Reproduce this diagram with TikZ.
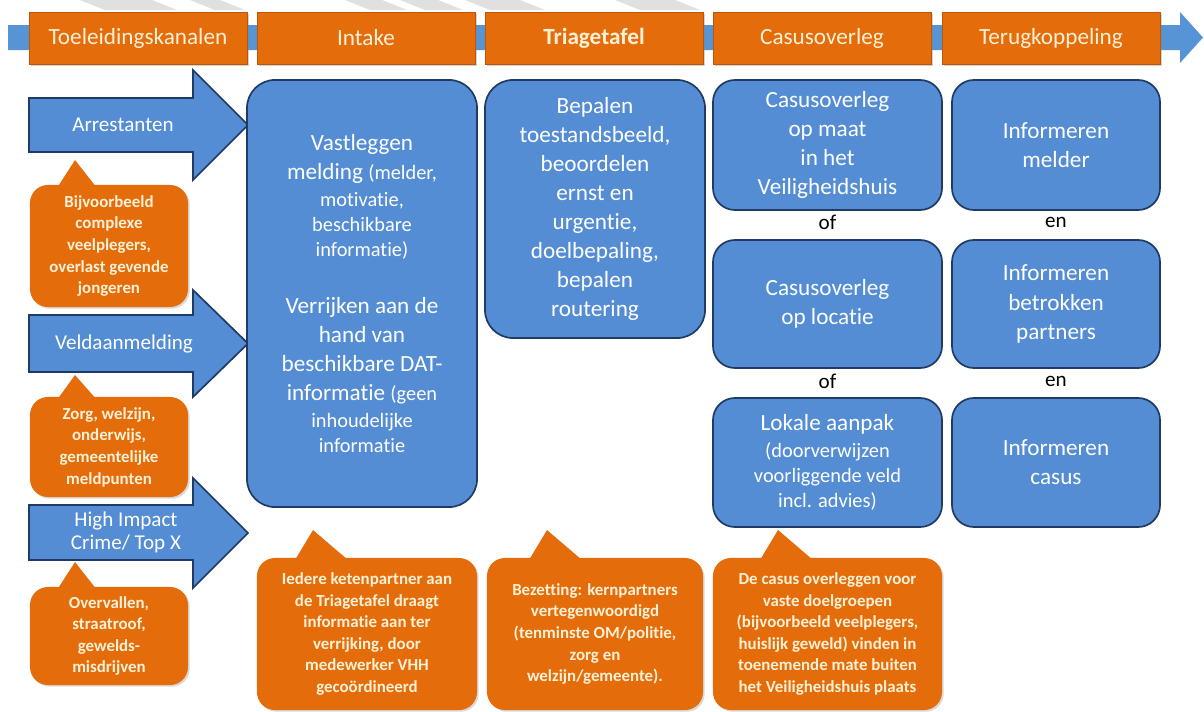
\documentclass[tikz,border=0pt]{standalone}
\usepackage{fontspec}
\setmainfont{Carlito}[Ligatures=NoCommon]
\usetikzlibrary{shadows}
\definecolor{vhhblue}{RGB}{84,141,212}
\definecolor{vhhnavy}{RGB}{31,58,99}
\definecolor{bandblue}{RGB}{86,148,214}
\definecolor{vhhorange}{RGB}{228,108,10}
\definecolor{orangeline}{RGB}{190,86,5}
\definecolor{creamtext}{RGB}{255,241,214}
\definecolor{watergray}{RGB}{224,224,224}
\newcommand{\smalltxt}[1]{{\fontsize{14.5}{17.7}\selectfont #1}}

\begin{document}
\begin{tikzpicture}[x=0.025cm, y=-0.025cm,
		headbox/.style={draw=orangeline, fill=vhhorange, text=creamtext, minimum width=5.45cm, minimum height=1.3cm, font=\fontsize{16.5}{19}\selectfont, drop shadow={shadow xshift=1.2pt, shadow yshift=-1.2pt, opacity=0.35}},
		stepbox/.style={draw=vhhnavy, fill=vhhblue, text=white, line width=1.2pt, rounded corners=0.55cm, align=center, font=\fontsize{16.5}{20.7}\selectfont},
		inarrow/.style={draw=vhhnavy, fill=vhhblue, line width=1.2pt, line join=miter},
		arrowtext/.style={text=white, align=center, font=\fontsize{15}{16.5}\selectfont},
		notebox/.style={fill=vhhorange, text=creamtext, rounded corners=0.45cm, align=center, font=\bfseries\fontsize{12}{15.4}\selectfont, drop shadow={shadow xshift=1.2pt, shadow yshift=-1.2pt, opacity=0.3}},
		linkword/.style={text=black, font=\fontsize{15}{18}\selectfont}
	]

	\useasboundingbox (0,0) rectangle (1204,711);

	\fill[watergray] (80,0) -- (152,0) -- (177,10) -- (105,10) -- cycle;
	\fill[watergray] (190,0) -- (220,0) -- (245,10) -- (215,10) -- cycle;
	\fill[watergray] (345,0) -- (382,0) -- (407,10) -- (370,10) -- cycle;
	\fill[watergray] (400,0) -- (438,0) -- (463,10) -- (425,10) -- cycle;
	\fill[watergray] (465,0) -- (520,0) -- (545,10) -- (490,10) -- cycle;
	\fill[watergray] (615,0) -- (675,0) -- (700,10) -- (640,10) -- cycle;

	\fill[bandblue] (8,25) -- (1180,25) -- (1180,12) -- (1203,37.5) -- (1180,63) -- (1180,50) -- (8,50) -- cycle;

	\node[headbox] (hToel) at (138,38) {Toeleidingskanalen};
	\node[headbox] (hIntake) at (366,38) {Intake};
	\node[headbox] (hTriage) at (594,38) {\textbf{Triagetafel}};
	\node[headbox] (hCasus) at (822,38) {Casusoverleg};
	\node[headbox] (hTerug) at (1051,38) {Terugkoppeling};

	\draw[inarrow] (29,98) -- (193,98) -- (193,70) -- (248,125) -- (193,180) -- (193,152) -- (29,152) -- cycle;
	\draw[inarrow] (29,315) -- (193,315) -- (193,290) -- (248,343.5) -- (193,397) -- (193,372) -- (29,372) -- cycle;
	\draw[inarrow] (29,505) -- (193,505) -- (193,478) -- (248,533) -- (193,588) -- (193,560) -- (29,560) -- cycle;

	\node[arrowtext] (aArrest) at (123,125) {Arrestanten};
	\node[arrowtext] (aVeld) at (124,343.5) {Veldaanmelding};
	\node[arrowtext] (aHigh) at (126,532) {High Impact\\Crime/ Top X};

	\node[notebox, minimum width=3.95cm, minimum height=3.05cm] (nArrest) at (109,246) {Bijvoorbeeld\\complexe\\veelplegers,\\overlast gevende\\jongeren};
	\fill[vhhorange] (57,188) -- (75,160) -- (97,188) -- cycle;

	\node[notebox, minimum width=3.95cm, minimum height=2.5cm] (nVeld) at (109,447) {Zorg, welzijn,\\onderwijs,\\gemeentelijke\\meldpunten};
	\fill[vhhorange] (57,400) -- (75,375) -- (97,400) -- cycle;

	\node[notebox, minimum width=3.95cm, minimum height=2.45cm] (nHigh) at (109,636) {Overvallen,\\straatroof,\\gewelds-\\misdrijven};
	\fill[vhhorange] (57,590) -- (75,562) -- (97,590) -- cycle;

	\node[stepbox, rounded corners=0.7cm, minimum width=5.75cm, minimum height=10.675cm] (bIntake) at (362,293.5) {Vastleggen\\melding \smalltxt{(melder,}\\[-1pt]\smalltxt{motivatie,}\\[-3pt]\smalltxt{beschikbare}\\[-3pt]\smalltxt{informatie)}\\[19.7pt]Verrijken aan de\\hand van\\beschikbare DAT-\\informatie \smalltxt{(geen}\\[-1.5pt]\smalltxt{inhoudelijke}\\[-3pt]\smalltxt{informatie}};

	\node[stepbox, rounded corners=0.7cm, minimum width=5.5cm, minimum height=6.45cm] (bTriage) at (595,209) {Bepalen\\toestandsbeeld,\\beoordelen\\ernst en\\urgentie,\\doelbepaling,\\bepalen\\routering};

	\node[stepbox, minimum width=5.725cm, minimum height=3.25cm] (bCasA) at (827.5,145) {Casusoverleg\\op maat\\in het\\Veiligheidshuis};
	\node[stepbox, minimum width=5.725cm, minimum height=3.2cm] (bCasB) at (827.5,304) {Casusoverleg\\op locatie};
	\node[stepbox, minimum width=5.725cm, minimum height=3.225cm] (bCasC) at (827.5,462.5) {Lokale aanpak\\[-1.6pt]\smalltxt{(doorverwijzen}\\[-3pt]\smalltxt{voorliggende veld}\\[-3pt]\smalltxt{incl. advies)}};

	\node[stepbox, minimum width=5.2cm, minimum height=3.25cm] (bTerA) at (1056,145) {Informeren\\melder};
	\node[stepbox, minimum width=5.2cm, minimum height=3.2cm] (bTerB) at (1056,304) {Informeren\\betrokken\\partners};
	\node[stepbox, minimum width=5.2cm, minimum height=3.225cm] (bTerC) at (1056,462.5) {Informeren\\casus};

	\node[linkword] (wOfA) at (827.5,222) {of};
	\node[linkword] (wOfB) at (827.5,381) {of};
	\node[linkword] (wEnA) at (1056,222) {en};
	\node[linkword] (wEnB) at (1056,381) {en};

	\node[notebox, minimum width=5.5cm, minimum height=3.8cm] (nIntake) at (367,634) {Iedere ketenpartner aan\\de Triagetafel draagt\\informatie aan ter\\verrijking, door\\medewerker VHH\\gecoördineerd};
	\fill[vhhorange] (295,560) -- (313,530) -- (348,560) -- cycle;

	\node[notebox, minimum width=5.4cm, minimum height=3.8cm] (nTriage) at (595,634) {Bezetting: kernpartners\\vertegenwoordigd\\(tenminste OM/politie,\\zorg en\\welzijn/gemeente).};
	\fill[vhhorange] (529,560) -- (547,530) -- (582,560) -- cycle;

	\node[notebox, minimum width=5.725cm, minimum height=3.8cm] (nCasus) at (827.5,634) {De casus overleggen voor\\vaste doelgroepen\\(bijvoorbeeld veelplegers,\\huislijk geweld) vinden in\\toenemende mate buiten\\het Veiligheidshuis plaats};
	\fill[vhhorange] (760,560) -- (778,530) -- (813,560) -- cycle;

\end{tikzpicture}
\end{document}
